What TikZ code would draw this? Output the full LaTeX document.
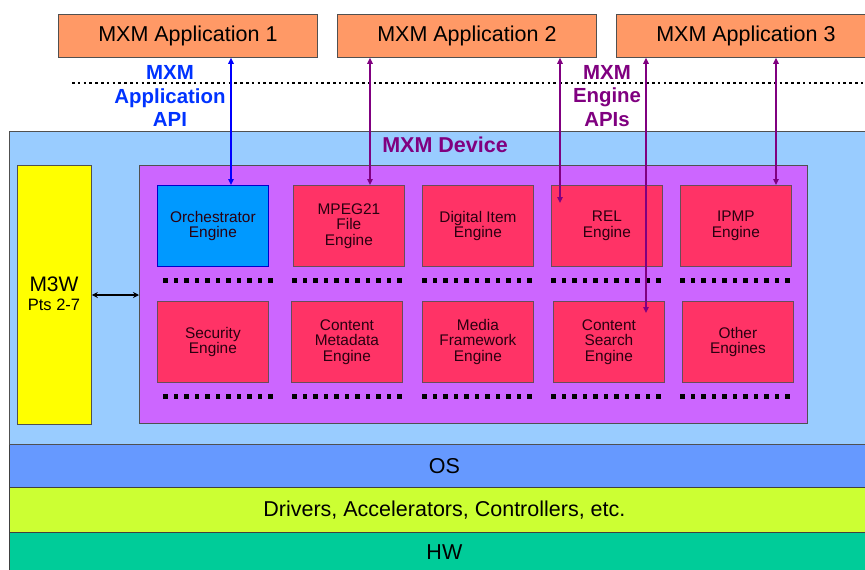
\documentclass[tikz,border=0pt]{standalone}
\usepackage{fontspec}
\setmainfont{Liberation Sans}
\usetikzlibrary{arrows.meta}
\definecolor{apporange}{HTML}{FF9966}
\definecolor{devblue}{HTML}{99CCFF}
\definecolor{pboxc}{HTML}{CC66FF}
\definecolor{engred}{HTML}{FF3366}
\definecolor{orchblue}{HTML}{0099FF}
\definecolor{m3wyellow}{HTML}{FFFF00}
\definecolor{osblue}{HTML}{6699FF}
\definecolor{drvgreen}{HTML}{CCFF33}
\definecolor{hwgreen}{HTML}{00CC99}
\definecolor{apipurple}{HTML}{800080}
\definecolor{apiblue}{HTML}{0033FF}
\definecolor{edgegray}{HTML}{505050}
\definecolor{engtext}{HTML}{2A0010}
\tikzset{
  box/.style={draw=edgegray, line width=0.8pt, rectangle, inner sep=0pt, anchor=north west},
  appbox/.style={box, fill=apporange, minimum width=259pt, minimum height=43pt, font=\fontsize{21.5}{24}\selectfont},
  engbox/.style={box, draw=engtext!70, fill=engred, minimum width=111pt, minimum height=81pt, align=center, text=engtext, font=\fontsize{15.4}{15.5}\selectfont},
  layer/.style={box, draw=black!75, minimum width=870pt, font=\fontsize{21.5}{24}\selectfont},
  apilabel/.style={align=center, font=\bfseries\fontsize{20.4}{23.5}\selectfont},
  purplearrow/.style={draw=apipurple, line width=2pt, {Triangle[length=6pt,width=5.5pt]}-{Triangle[length=6pt,width=5.5pt]}},
  bluearrow/.style={draw=blue, line width=2pt, {Triangle[length=6pt,width=5.5pt]}-{Triangle[length=6pt,width=5.5pt]}},
}
\begin{document}
\begin{tikzpicture}[x=1pt,y=-1pt]
\useasboundingbox (0,0) rectangle (865,570);
\clip (0,0) rectangle (865,570);
\fill[white] (0,0) rectangle (865,570);

% bottom layers
\node[layer, fill=osblue, minimum height=43pt] (os) at (9,444) {OS};
\node[layer, fill=drvgreen, minimum height=45pt] (drv) at (9,487) {Drivers, Accelerators, Controllers, etc.};
\node[layer, fill=hwgreen, minimum height=40pt] (hw) at (9,532) {HW};

% device box
\node[box, fill=devblue, minimum width=870pt, minimum height=313pt] (dev) at (9,131) {};
\node[text=apipurple, font=\bfseries\fontsize{21.5}{24}\selectfont] (devlbl) at (445,145) {MXM Device};

% M3W
\node[box, fill=m3wyellow, minimum width=74pt, minimum height=259pt] (m3w) at (17,165) {};
\node[font=\fontsize{21}{24}\selectfont] (m3wlbl) at (54,284) {M3W};
\node[font=\fontsize{16.5}{18}\selectfont] (ptslbl) at (54,305) {Pts 2-7};

% purple engines container
\node[box, fill=pboxc, minimum width=668pt, minimum height=258pt] (eng) at (139,165) {};

% M3W <-> engines
\coordinate (m3wy) at (0,295);
\draw[line width=1.5pt, {Stealth[length=6pt,width=6pt]}-{Stealth[length=6pt,width=6pt]}] (m3w.east |- m3wy) -- (eng.west |- m3wy);

% app boxes
\node[appbox] (app1) at (58,14) {MXM Application 1};
\node[appbox] (app2) at (337,14) {MXM Application 2};
\node[appbox] (app3) at (616,14) {MXM Application 3};

% dotted separator
\draw[line width=2.6pt, dash pattern=on 2.6pt off 3.2pt] (72,83) -- (870,83);

% api labels
\node[apilabel, text=apiblue] (appapi) at (170,96) {MXM\\Application\\API};
\node[apilabel, text=apipurple] (engapi) at (607,96) {MXM\\Engine\\APIs};

% engine boxes row 1
\node[engbox, draw=blue!80!black, fill=orchblue] (orch) at (157,185) {Orchestrator\\Engine};
\node[engbox] (mpeg) at (293,185) {MPEG21\\File\\Engine};
\node[engbox] (di) at (422,185) {Digital Item\\Engine};
\node[engbox] (rel) at (551,185) {REL\\Engine};
\node[engbox] (ipmp) at (680,185) {IPMP\\Engine};
% row 2
\node[engbox] (sec) at (157,301) {Security\\Engine};
\node[engbox] (cme) at (291,301) {Content\\Metadata\\Engine};
\node[engbox] (mfe) at (422,301) {Media\\Framework\\Engine};
\node[engbox] (cse) at (553,301) {Content\\Search\\Engine};
\node[engbox] (oth) at (682,301) {Other\\Engines};

% square-dot rows
\foreach \x in {163,292,422,551,680}{
  \foreach \i in {0,...,10}{
    \fill (\x+\i*10.5,278) rectangle ++(4.5,4.5);
    \fill (\x+\i*10.5,394) rectangle ++(4.5,4.5);
  }
}

% API arrows
\coordinate (a1) at (231,0);
\coordinate (a2) at (370,0);
\coordinate (a3end) at (560,203);
\coordinate (a4end) at (646,313);
\coordinate (a5) at (776,0);
\draw[bluearrow] (a1 |- app1.south) -- (a1 |- orch.north);
\draw[purplearrow] (a2 |- app2.south) -- (a2 |- mpeg.north);
\draw[purplearrow] (a3end |- app2.south) -- (a3end);
\draw[purplearrow] (a4end |- app3.south) -- (a4end);
\draw[purplearrow] (a5 |- app3.south) -- (a5 |- ipmp.north);
\end{tikzpicture}
\end{document}
